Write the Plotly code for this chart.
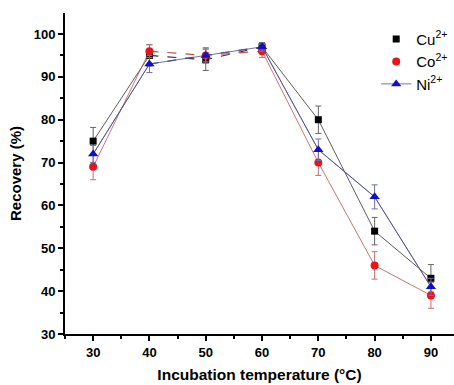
import plotly.graph_objects as go

temps = [30, 40, 50, 60, 70, 80, 90]
cu = [75, 95, 94, 97, 80, 54, 43]
cu_err = [3.2, 2.5, 2.5, 1.0, 3.2, 3.2, 3.2]
co = [69, 96, 95, 96, 70, 46, 39]
co_err = [3.0, 1.5, 1.5, 1.5, 3.0, 3.2, 3.0]
ni = [72, 93, 95, 97, 73, 62, 41]
ni_err = [2.0, 2.0, 1.8, 1.0, 2.5, 2.8, 2.0]

series = [
    ("Cu<sup>2+</sup>", cu, cu_err, "#000000", "#333333", "#666666", "square", 7),
    ("Co<sup>2+</sup>", co, co_err, "#e8141c", "#c05050", "#c07070", "circle", 8),
    ("Ni<sup>2+</sup>", ni, ni_err, "#1010c8", "#50508a", "#7070a8", "triangle-up", 9),
]

fig = go.Figure()
for name, ys, err, mc, lc, ec, sym, ms in series:
    solid_x = temps[:2] + [None] + temps[3:]
    solid_y = ys[:2] + [None] + ys[3:]
    fig.add_trace(go.Scatter(x=solid_x, y=solid_y, mode="lines",
                             line=dict(color=lc, width=0.8), showlegend=False,
                             hoverinfo="skip"))
    fig.add_trace(go.Scatter(x=temps[1:4], y=ys[1:4], mode="lines",
                             line=dict(color=lc, width=1.2, dash="dash"),
                             showlegend=False, hoverinfo="skip"))
    is_ni = sym == "triangle-up"
    fig.add_trace(go.Scatter(
        x=temps, y=ys, name=name,
        mode="lines+markers" if is_ni else "markers",
        line=dict(color=lc, width=0.8 if is_ni else 0.01),
        marker=dict(symbol=sym, size=ms, color=mc),
        error_y=dict(type="data", array=err, color=ec, thickness=1, width=3),
    ))

fig.update_layout(
    width=454, height=385,
    margin=dict(l=65, r=0, t=13, b=51),
    paper_bgcolor="white", plot_bgcolor="white",
    font=dict(family="Liberation Sans, Arial, sans-serif", color="#000"),
    showlegend=True,
    legend=dict(x=0.8, y=0.97, xanchor="left", yanchor="top",
                bgcolor="rgba(0,0,0,0)", font=dict(size=15),
                tracegroupgap=0, itemwidth=30),
    xaxis=dict(range=[25, 94.1], tickvals=temps,
               ticktext=[f"<b>{t}</b>" for t in temps],
               ticks="outside", ticklen=5, tickwidth=2, tickcolor="#000",
               showline=True, linecolor="#000", linewidth=2,
               showgrid=False, zeroline=False,
               minor=dict(dtick=5, tick0=25, ticks="outside", ticklen=3, tickwidth=1.5, tickcolor="#000"),
               tickfont=dict(size=13),
               title=dict(text="<b>Incubation temperature (°C)</b>", font=dict(size=15.5), standoff=11)),
    yaxis=dict(range=[30, 104.9], tickvals=[30, 40, 50, 60, 70, 80, 90, 100],
               ticktext=[f"<b>{v}</b>" for v in [30, 40, 50, 60, 70, 80, 90, 100]],
               ticks="outside", ticklen=5, tickwidth=2, tickcolor="#000",
               showline=True, linecolor="#000", linewidth=2,
               showgrid=False, zeroline=False,
               minor=dict(dtick=5, tick0=30, ticks="outside", ticklen=3, tickwidth=1.5, tickcolor="#000"),
               tickfont=dict(size=13),
               title=dict(text="<b>Recovery (%)</b>", font=dict(size=15), standoff=8)),
)

fig.write_html("out.html")
